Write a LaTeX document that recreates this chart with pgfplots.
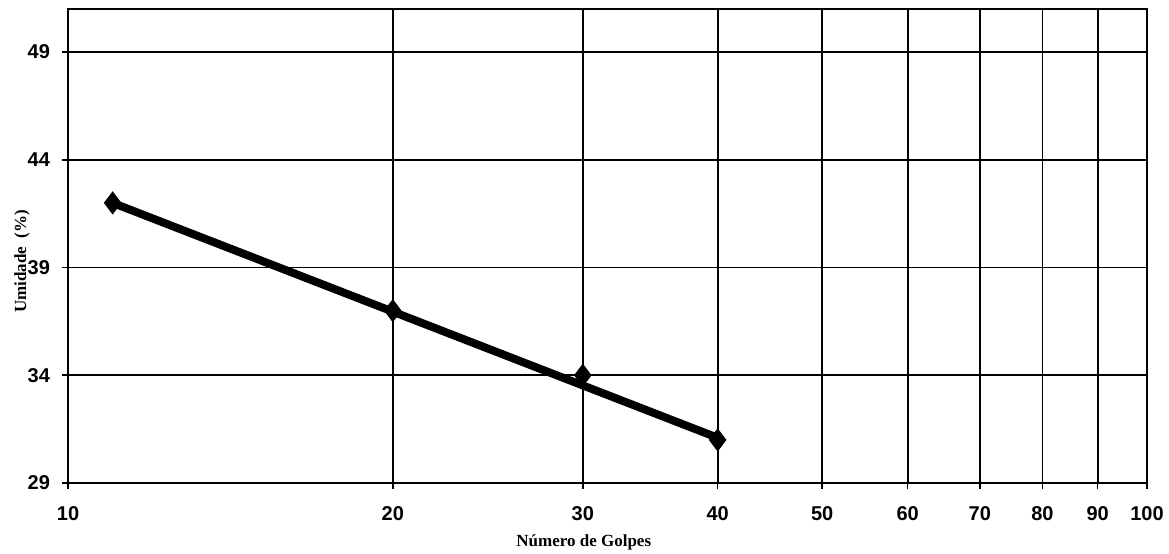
\documentclass[border=0pt]{standalone}
\usepackage{fontspec}
\setmainfont{Liberation Serif}
\setsansfont{Liberation Sans}
\usepackage{pgfplots}
\pgfplotsset{compat=1.18}
\begin{document}
\begin{tikzpicture}
\begin{axis}[
  scale only axis,
  width=539.5pt, height=237pt,
  xmode=log,
  xmin=10, xmax=100, ymin=29, ymax=51,
  xtick={10,20,30,40,50,60,70,80,90,100},
  xticklabels={10,20,30,40,50,60,70,80,90,100},
  minor xtick={},
  ytick={29,34,39,44,49},
  yticklabels={29,34,39,44,49},
  tick align=outside,
  tick pos=left,
  major tick length=3pt,
  xmajorgrids, ymajorgrids,
  grid style={black, line width=0.9pt},
  axis line style={black, line width=1pt},
  tick style={black, line width=0.8pt},
  ticklabel style={font=\sffamily\bfseries\fontsize{10}{11}\selectfont},
  xticklabel style={yshift=-5pt},
  yticklabel style={xshift=-2.5pt},
  xlabel={Número de Golpes},
  ylabel={Umidade\ \ (\%)},
  label style={font=\rmfamily\bfseries\fontsize{8.5}{10}\selectfont},
  xlabel style={at={(axis description cs:0.478,-0.1245)}, anchor=center},
  ylabel style={at={(axis description cs:-0.0426,0.468)}, anchor=center, rotate=0},
  clip=false,
]
\addplot[black, line width=4pt, line cap=round] coordinates {(11,42.0) (40,31.1)};
\addplot[only marks, mark=diamond*, mark size=5.5pt, black] coordinates {
(11,42) (20,37) (30,34) (40,31)
};
\coordinate (bl) at (rel axis cs:0,0);
\coordinate (tr) at (rel axis cs:1,1);
\end{axis}
\pgfresetboundingbox
\path[use as bounding box] ([xshift=-34pt,yshift=-35pt]bl) rectangle ([xshift=11pt,yshift=4.5pt]tr);
\end{tikzpicture}
\end{document}
